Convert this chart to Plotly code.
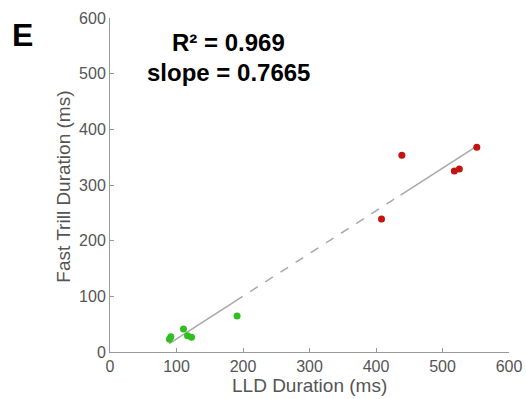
import plotly.graph_objects as go

# Data
green_lld = [89.4, 91.5, 110.5, 116.6, 122.6, 191.1]
green_ft = [22.8, 27.5, 41.3, 29.3, 26.4, 64.7]
red_lld = [408.3, 438.9, 517.8, 525.3, 551.6]
red_ft = [239.0, 353.3, 325.0, 328.7, 367.7]

slope = 0.7665
intercept = -53.0
r2 = 0.969
solid1_x = [89.0, 188.0]
dashed_x = [188.0, 437.0]
solid2_x = [437.0, 551.6]

x_ticks = [0, 100, 200, 300, 400, 500, 600]
y_ticks = [0, 100, 200, 300, 400, 500, 600]


def fit(xs):
    return [slope * v + intercept for v in xs]


line_col = "#a8a8a8"
fig = go.Figure()
fig.add_trace(go.Scatter(x=solid1_x, y=fit(solid1_x), mode="lines",
                         line=dict(color=line_col, width=1.5), hoverinfo="skip"))
fig.add_trace(go.Scatter(x=dashed_x, y=fit(dashed_x), mode="lines",
                         line=dict(color=line_col, width=1.5, dash="dash"), hoverinfo="skip"))
fig.add_trace(go.Scatter(x=solid2_x, y=fit(solid2_x), mode="lines",
                         line=dict(color=line_col, width=1.5), hoverinfo="skip"))
fig.add_trace(go.Scatter(x=green_lld, y=green_ft, mode="markers",
                         marker=dict(color="#2fbf1f", size=7, line=dict(width=0))))
fig.add_trace(go.Scatter(x=red_lld, y=red_ft, mode="markers",
                         marker=dict(color="#c3140e", size=7, line=dict(width=0))))

font_fam = "Liberation Sans, Arial, Helvetica, sans-serif"
axis_common = dict(
    showgrid=False, zeroline=False, showline=True, linecolor="#9a9a9a", linewidth=1,
    ticks="inside", ticklen=4, tickcolor="#9a9a9a", tickwidth=1, automargin=False,
    tickfont=dict(family=font_fam, size=16, color="#555555"),
)
cx = (228.5 - 110) / 399
fig.update_layout(
    width=526, height=399,
    margin=dict(l=110, r=17, t=18, b=47),
    paper_bgcolor="white", plot_bgcolor="white",
    showlegend=False,
    xaxis=dict(range=[0, 600], tickvals=x_ticks, **axis_common),
    yaxis=dict(range=[0, 600], tickvals=y_ticks, **axis_common),
    annotations=[
        dict(text="LLD Duration (ms)", xref="paper", yref="paper", x=0.5, y=0,
             yshift=-33, showarrow=False, xanchor="center", yanchor="middle",
             font=dict(family=font_fam, size=19, color="#555555")),
        dict(text="Fast Trill Duration (ms)", xref="paper", yref="paper", x=0, y=0.495,
             xshift=-46, textangle=-90, showarrow=False, xanchor="center", yanchor="middle",
             font=dict(family=font_fam, size=19, color="#555555")),
        dict(text="R² = %.3f" % r2, xref="paper", yref="paper", x=cx,
             y=1, yshift=-24, showarrow=False, xanchor="center", yanchor="middle",
             font=dict(family=font_fam, size=24, color="black", weight="bold")),
        dict(text="slope = %.4f" % slope, xref="paper", yref="paper", x=cx,
             y=1, yshift=-54, showarrow=False, xanchor="center", yanchor="middle",
             font=dict(family=font_fam, size=24, color="black", weight="bold")),
        dict(text="E", xref="paper", yref="paper", x=0, xshift=-88, y=1, yshift=-17,
             showarrow=False, xanchor="center", yanchor="middle",
             font=dict(family=font_fam, size=32, color="black", weight="bold")),
    ],
)
fig.write_html("out.html", config={"displayModeBar": False},
               post_script="document.body.style.margin='0';document.body.style.overflow='hidden';")
